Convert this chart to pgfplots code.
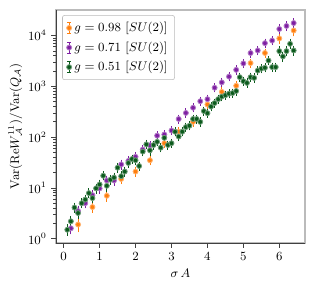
\documentclass[border=0pt]{standalone}
\usepackage{pgfplots}
\pgfplotsset{compat=1.18}
\usepackage{pgfplotstable}
\usetikzlibrary{calc}
\definecolor{corange}{HTML}{FF7F0E}
\definecolor{cpurple}{HTML}{7E1FA2}
\definecolor{cgreen}{HTML}{0B5A1C}
\definecolor{spinegray}{HTML}{BBBBBB}

\pgfplotstableread{
x y e
0.4 1.9 0.22
0.8 4.2 0.15
1.2 7.0 0.15
1.6 15 0.12
2.0 21 0.12
2.4 35 0.12
2.8 76 0.10
3.2 128 0.10
3.6 200 0.10
4.0 440 0.10
4.4 780 0.10
4.8 1030 0.10
5.2 2880 0.10
5.6 4550 0.10
6.0 8800 0.12
6.4 12600 0.15
}\orangedata

\pgfplotstableread{
x y e
0.2 1.6 0.15
0.4 3.5 0.15
0.6 5.0 0.12
0.8 7.2 0.12
1.0 9.8 0.12
1.2 14 0.12
1.4 14 0.12
1.6 29 0.12
1.8 34 0.10
2.0 41 0.10
2.2 57 0.10
2.4 69 0.10
2.6 107 0.10
2.8 113 0.10
3.0 135 0.10
3.2 228 0.10
3.4 300 0.10
3.6 380 0.10
3.8 510 0.10
4.0 560 0.10
4.2 940 0.10
4.4 1200 0.10
4.6 1560 0.10
4.8 2120 0.10
5.0 2830 0.10
5.2 4550 0.10
5.4 5100 0.10
5.6 7100 0.10
5.8 8000 0.10
6.0 13500 0.12
6.2 15500 0.12
6.4 17700 0.12
}\purpledata

\pgfplotstableread{
x y e
0.1 1.5 0.15
0.2 2.2 0.15
0.3 4.1 0.12
0.4 3.2 0.15
0.5 5.0 0.12
0.6 5.9 0.12
0.7 7.9 0.12
0.8 6.3 0.12
0.9 9.8 0.12
1.0 11.7 0.12
1.1 17.4 0.10
1.2 11 0.15
1.3 14.5 0.12
1.4 16 0.12
1.5 25 0.12
1.6 17 0.12
1.7 21 0.12
1.8 31 0.10
1.9 37 0.10
2.0 35 0.12
2.1 27 0.10
2.2 52 0.10
2.3 72 0.10
2.4 55 0.12
2.5 70 0.10
2.6 81 0.10
2.7 62 0.10
2.8 97 0.10
2.9 70 0.10
3.0 76 0.10
3.1 128 0.10
3.2 103 0.10
3.3 128 0.10
3.4 158 0.10
3.5 168 0.10
3.6 228 0.10
3.7 228 0.10
3.8 200 0.10
3.9 326 0.10
4.0 297 0.10
4.1 400 0.10
4.2 470 0.10
4.3 560 0.10
4.4 630 0.10
4.5 670 0.10
4.6 720 0.10
4.7 740 0.10
4.8 810 0.10
4.9 1520 0.10
5.0 1265 0.10
5.1 1170 0.10
5.2 1520 0.10
5.3 1470 0.10
5.4 2050 0.10
5.5 2240 0.10
5.6 2330 0.10
5.7 3230 0.10
5.8 2400 0.10
5.9 2400 0.10
6.0 4950 0.12
6.1 3890 0.12
6.2 4950 0.12
6.3 6900 0.12
6.4 5100 0.12
}\greendata

\begin{document}
\fontsize{9}{11}\selectfont
\begin{tikzpicture}
\pgfplotsset{
  errstyle/.style={
    only marks,
    mark=*,
    mark size=1.8pt,
    color=#1,
    mark options={fill=#1, draw=#1!60, line width=0.6pt},
    error bars/.cd,
      y dir=both, y explicit relative,
      error mark=-,
      error mark options={#1, line width=0.6pt, mark size=1.7pt},
      error bar style={#1, line width=0.6pt},
  },
}
\begin{axis}[
  name=ax,
  scale only axis,
  width=179.3pt, height=167.8pt,
  ymode=log,
  xmin=-0.215, xmax=6.715,
  ymin=0.82, ymax=3.2e4,
  xtick={0,1,2,3,4,5,6},
  ytick={1,10,100,1000,10000},
  axis x line*=bottom,
  axis y line*=left,
  axis line style={-, draw=black!75, line width=0.6pt},
  axis background/.style={draw=spinegray, line width=1.2pt},
  tick align=outside,
  major tick length=3.5pt,
  minor tick length=2pt,
  tick style={black!75, line width=0.6pt},
  xlabel={$\sigma\,A$},
  ylabel={$\mathrm{Var}(\mathrm{Re}W^{11}_{\mathcal{A}})/\mathrm{Var}(Q_{\mathcal{A}})$},
  xlabel style={yshift=0pt},
  ylabel style={yshift=-2pt},
  legend style={at={(0.025,0.978)}, anchor=north west, draw=spinegray, rounded corners=1.5pt,
    font=\fontsize{9.3}{11}\selectfont, row sep=2pt, inner xsep=3pt, inner ysep=3pt},
  legend cell align=left,
  legend image code/.code={%
    \draw[#1, only marks, mark=none] (0.2cm,-0.14cm) -- (0.2cm,0.14cm);
    \draw[#1, only marks, mark=none] (0.15cm,-0.14cm) -- (0.25cm,-0.14cm);
    \draw[#1, only marks, mark=none] (0.15cm,0.14cm) -- (0.25cm,0.14cm);
    \draw[#1] plot coordinates {(0.2cm,0cm)};
  },
]
\addplot+[errstyle=corange] table[x=x, y=y, y error=e] {\orangedata};
\addlegendentry{$g=0.98$ $[SU(2)]$}
\addplot+[errstyle=cpurple] table[x=x, y=y, y error=e] {\purpledata};
\addlegendentry{$g=0.71$ $[SU(2)]$}
\addplot+[errstyle=cgreen] table[x=x, y=y, y error=e] {\greendata};
\addlegendentry{$g=0.51$ $[SU(2)]$}
\end{axis}
\pgfresetboundingbox
\path[use as bounding box] ($(ax.south west)+(-40.3pt,-33.8pt)$) rectangle ($(ax.north east)+(7.2pt,7.2pt)$);
\end{tikzpicture}
\end{document}
